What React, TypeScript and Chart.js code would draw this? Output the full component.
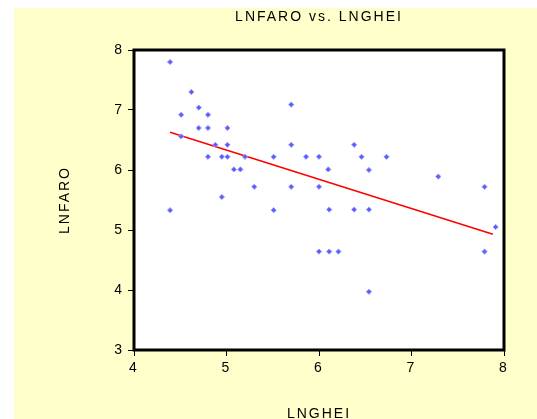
import React, { useEffect, useRef } from "react";
import { Chart, registerables } from "chart.js";

Chart.register(...registerables);

const lnghei = [
  4.39, 4.51, 4.51, 4.62, 4.70, 4.70, 4.80, 4.80, 4.80, 4.88, 4.95, 4.95,
  5.01, 5.01, 5.01, 5.08, 5.15, 5.20, 5.30, 5.51, 5.70, 5.70, 5.70, 5.86,
  6.00, 6.00, 6.10, 6.38, 6.46, 6.73, 6.54, 7.29, 7.79, 6.11, 6.38, 6.54,
  7.91, 6.00, 6.11, 6.21, 7.79, 6.54, 4.39, 5.51,
];
const lnfaro = [
  7.80, 6.92, 6.56, 7.30, 7.04, 6.70, 6.92, 6.70, 6.22, 6.42, 6.22, 5.55,
  6.70, 6.42, 6.22, 6.01, 6.01, 6.22, 5.72, 6.22, 7.09, 6.42, 5.72, 6.22,
  6.22, 5.72, 6.01, 6.42, 6.22, 6.22, 6.00, 5.89, 5.72, 5.34, 5.34, 5.34,
  5.05, 4.64, 4.64, 4.64, 4.64, 3.97, 5.33, 5.33,
];
const fitX = [4.39, 7.88];
const fitY = [6.63, 4.93];

const chartTitle = "LNFARO vs. LNGHEI";
const xTitle = "LNGHEI";
const yTitle = "LNFARO";

const FONT = "'Liberation Sans', Arial, sans-serif";

const framePlugin = {
  id: "frame",
  beforeDraw(chart: any) {
    const { ctx, chartArea: a } = chart;
    ctx.save();
    ctx.fillStyle = "#FFFFCC";
    ctx.fillRect(14, 8, 523, 411);
    ctx.fillStyle = "#FFFFFF";
    ctx.fillRect(a.left, a.top, a.right - a.left, a.bottom - a.top);
    ctx.restore();
    (ctx as any).letterSpacing = "2px";
  },
  afterDraw(chart: any) {
    const { ctx, chartArea: a } = chart;
    (ctx as any).letterSpacing = "0px";
    ctx.save();
    ctx.strokeStyle = "#000";
    ctx.lineWidth = 3;
    ctx.strokeRect(a.left, a.top, a.right - a.left, a.bottom - a.top);
    ctx.restore();
  },
};

export default function App() {
  const ref = useRef<HTMLCanvasElement | null>(null);

  useEffect(() => {
    if (!ref.current) return;
    const chart = new Chart(ref.current, {
      type: "scatter",
      data: {
        datasets: [
          {
            label: "points",
            data: lnghei.map((x, i) => ({ x, y: lnfaro[i] })),
            pointStyle: "rectRot",
            pointRadius: 2.6,
            backgroundColor: "#5a5aff",
            borderColor: "#9a9aff",
            borderWidth: 1,
            showLine: false,
          },
          {
            label: "fit",
            data: fitX.map((x, i) => ({ x, y: fitY[i] })),
            showLine: true,
            borderColor: "#ff0000",
            borderWidth: 1.5,
            pointRadius: 0,
            fill: false,
          } as any,
        ],
      },
      options: {
        animation: false,
        responsive: false,
        devicePixelRatio: 1,
        layout: { padding: { top: 0, right: 33, bottom: 0, left: 0 } },
        plugins: {
          legend: { display: false },
          tooltip: { enabled: false },
          title: {
            display: true,
            text: chartTitle,
            fullSize: false,
            color: "#000",
            font: { family: FONT, size: 14, weight: "normal", lineHeight: 1 },
            padding: { top: 10, bottom: 26 },
          },
        },
        scales: {
          x: {
            type: "linear",
            position: "bottom",
            min: 4,
            max: 8,
            ticks: {
              stepSize: 1,
              padding: 4,
              color: "#000",
              font: { family: FONT, size: 14 },
            },
            grid: {
              drawOnChartArea: false,
              drawTicks: true,
              tickLength: 6,
              color: "#000",
            },
            border: { display: false },
            title: {
              display: true,
              text: xTitle,
              color: "#000",
              font: { family: FONT, size: 14, lineHeight: 1 },
              padding: { top: 0, bottom: -2 },
            },
            afterFit(s: any) {
              s.height = 69;
            },
          },
          y: {
            type: "linear",
            position: "left",
            min: 3,
            max: 8,
            ticks: {
              stepSize: 1,
              padding: 4,
              color: "#000",
              font: { family: FONT, size: 14 },
            },
            grid: {
              drawOnChartArea: false,
              drawTicks: true,
              tickLength: 6,
              color: "#000",
            },
            border: { display: false },
            title: {
              display: true,
              text: yTitle,
              color: "#000",
              font: { family: FONT, size: 14, lineHeight: 1 },
              padding: { top: 58, bottom: 0 },
            },
            afterFit(s: any) {
              s.width = 134;
            },
          },
        },
      } as any,
      plugins: [framePlugin],
    });
    return () => chart.destroy();
  }, []);

  return (
    <div style={{ position: "absolute", left: 0, top: 0, width: 537, height: 419 }}>
      <canvas ref={ref} width={537} height={419} style={{ display: "block" }} />
    </div>
  );
}
